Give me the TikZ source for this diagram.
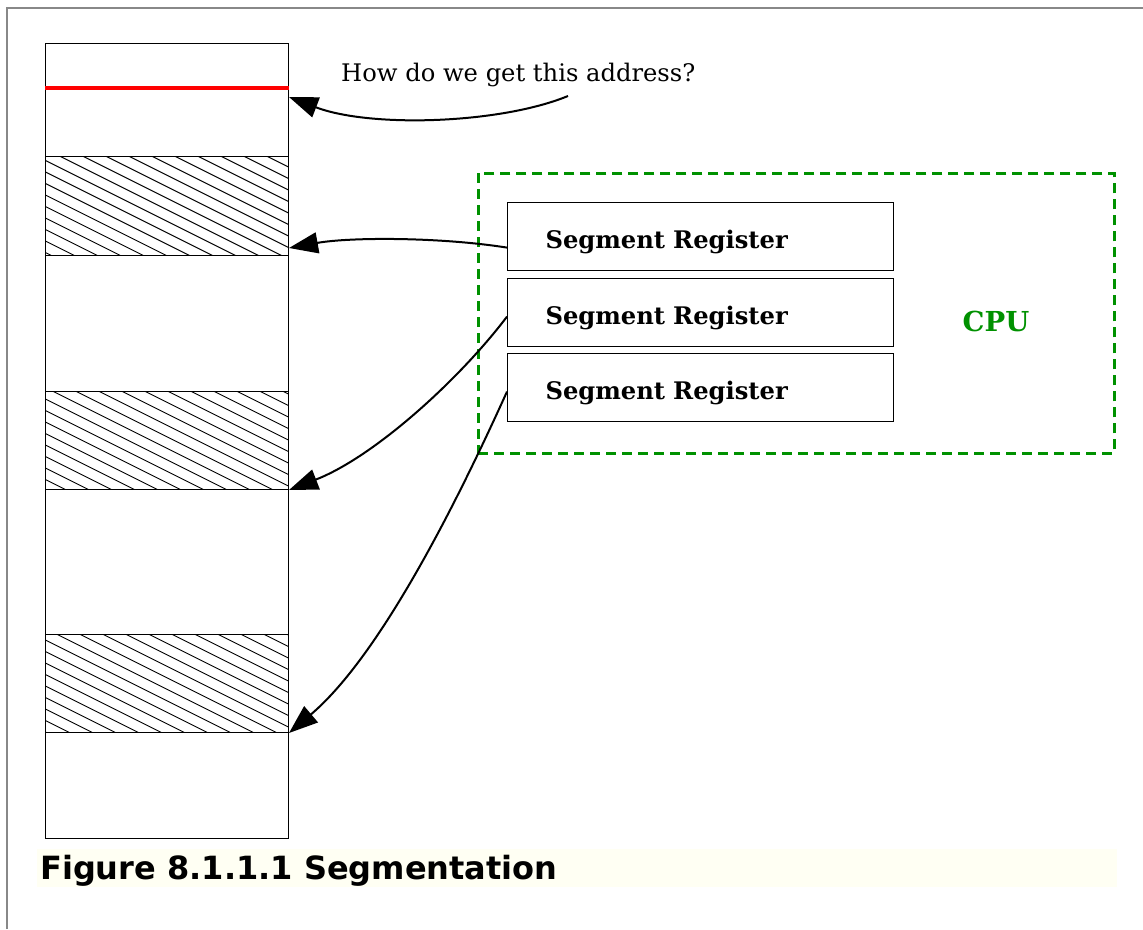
\documentclass[tikz,border=0pt]{standalone}
\usepackage{fontspec}
\setmainfont{DejaVu Serif}
\newfontfamily\capfont{DejaVu Sans}
\usetikzlibrary{arrows.meta,calc}
\definecolor{cpugreen}{RGB}{0,145,0}
\definecolor{framegray}{RGB}{136,136,136}
\definecolor{capbg}{RGB}{255,255,243}
\begin{document}
\begin{tikzpicture}[x=1pt,y=-1pt,
  mem/.style={draw=black,line width=1pt,minimum width=243pt,inner sep=0pt,anchor=north west},
  hatched/.style={mem,path picture={
      \foreach \k in {-10,...,11}
        \draw[line width=0.9pt] ($(path picture bounding box.north west)+(\k*23+#1,0)$) -- ++(240,120);}},
  reg/.style={draw=black,line width=1.2pt,minimum height=68pt,text width=310pt,inner xsep=38pt,inner ysep=0pt,align=left,text height=23pt,text depth=0pt,font=\fontsize{24.2}{29}\selectfont\bfseries,anchor=north west},
  conn/.style={line width=2pt,-{Triangle[length=29pt,width=21pt]}},
  cpubox/.style={draw=cpugreen,line width=2.5pt,dash pattern=on 10pt off 6pt,minimum width=636pt,minimum height=280pt,inner sep=0pt,anchor=north west}
]
\useasboundingbox (0,0) rectangle (1143,929);
\fill[white] (0,0) rectangle (1143,929);
% frame
\draw[framegray,line width=2pt] (7,929) -- (7,8) -- (1143,8);
% caption
\node[fill=capbg,minimum width=1080pt,minimum height=38pt,inner sep=0pt,anchor=north west] (capbox) at (37,849) {};
\node[anchor=base west,inner sep=0pt,font=\capfont\bfseries\fontsize{32}{38}\selectfont] (caption) at (40,879) {Figure 8.1.1.1 Segmentation};
% memory column
\node[mem,minimum height=113pt] (mtop) at (45,43) {};
\node[hatched=15,minimum height=99pt] (h1) at (45,156) {};
\node[mem,minimum height=136pt] (g1) at (45,255) {};
\node[hatched=8,minimum height=98pt] (h2) at (45,391) {};
\node[mem,minimum height=145pt] (g2) at (45,489) {};
\node[hatched=12,minimum height=98pt] (h3) at (45,634) {};
\node[mem,minimum height=106pt] (mbot) at (45,732) {};
\draw[red,line width=4.5pt] ($(mtop.north west)+(0,45)$) -- ($(mtop.north east)+(0,45)$);
% question
\node[anchor=base west,inner sep=0pt,font=\fontsize{24.2}{29}\selectfont] (question) at (341,81) {How do we get this address?};
\coordinate (qs) at (568,96);
\coordinate (qa) at ($(mtop.north east)+(0,54)$);
% CPU
\node[cpubox] (cpu) at (477,172) {};
\node[anchor=base,inner sep=0pt,text=cpugreen,font=\fontsize{27.5}{33}\selectfont\bfseries] (cpulbl) at (996,331) {CPU};
\node[reg] (r1) at (507,202) {Segment Register};
\node[reg] (r2) at (507,278) {Segment Register};
\node[reg] (r3) at (507,353) {Segment Register};
% connectors
\draw[conn] (qs) .. controls (500,124) and (370,128) .. (qa);
\draw[conn] ($(r1.west)+(0,11)$) .. controls (440,237) and (350,237) .. ($(h1.south east)+(0,-8)$);
\draw[conn] ($(r2.west)+(0,4)$) .. controls (459,380) and (374,457) .. (h2.south east);
\draw[conn] ($(r3.west)+(0,4)$) .. controls (458,500) and (381,655) .. (h3.south east);
\end{tikzpicture}
\end{document}
